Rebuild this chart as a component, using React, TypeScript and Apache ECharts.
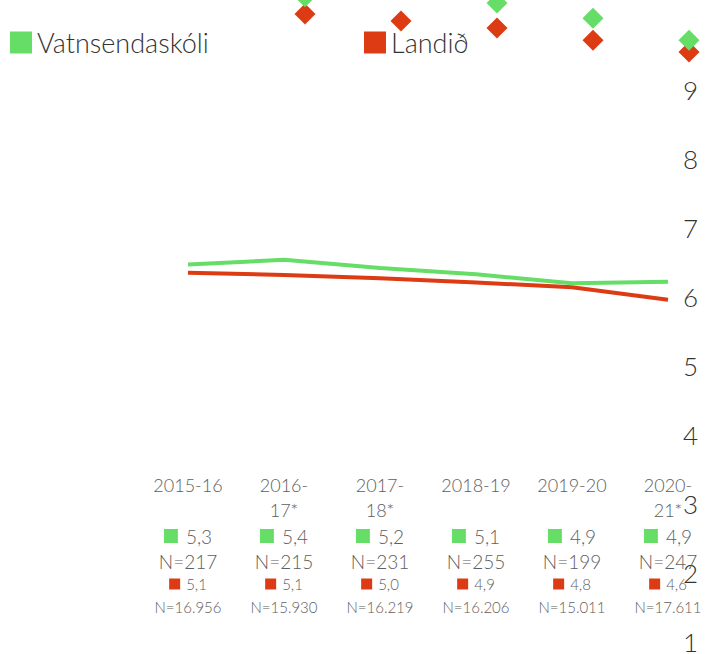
import React, { useEffect, useRef } from 'react';
import * as echarts from 'echarts';

const GREEN = '#66dd66';
const RED = '#dd3b14';
const FONT = 'Lato';
const WEIGHT = 300;

const categories = ['2015-16', '2016-17*', '2017-18*', '2018-19', '2019-20', '2020-21*'];
const categoryLabels = ['2015-16', '2016-\n17*', '2017-\n18*', '2018-19', '2019-20', '2020-\n21*'];

const schoolLine = [6.47, 6.54, 6.42, 6.33, 6.2, 6.22];
const nationalLine = [6.35, 6.32, 6.27, 6.21, 6.14, 5.96];

const schoolDiamonds = ['-', 10.35, 10.5, 10.26, 10.04, 9.72];
const nationalDiamonds = ['-', 10.1, 10.0, 9.9, 9.72, 9.55];

const schoolScores = [5.3, 5.4, 5.2, 5.1, 4.9, 4.9];
const schoolN = [217, 215, 231, 255, 199, 247];
const nationalScores = [5.1, 5.1, 5.0, 4.9, 4.8, 4.6];
const nationalN = [16956, 15930, 16219, 16206, 15011, 17611];

const yMin = 1;
const yMax = 9;
const yStep = 1;

const fmtScore = (v: number) => v.toFixed(1).replace('.', ',');
const fmtN = (n: number) => String(n).replace(/\B(?=(\d{3})+(?!\d))/g, '.');

export default function App() {
  const ref = useRef<HTMLDivElement>(null);

  useEffect(() => {
    document.body.style.margin = '0';
    if (!ref.current) return;
    const chart = echarts.init(ref.current, null, { renderer: 'svg' });

    const labelColor = '#5e5e5e';
    const legendText = { fontSize: 27, color: '#333333', fontFamily: FONT, fontWeight: WEIGHT };
    const option: any = {
      animation: false,
      backgroundColor: '#ffffff',
      textStyle: { fontFamily: FONT },
      legend: [
        {
          data: ['Vatnsendaskóli'],
          left: 10,
          top: 29,
          padding: 0,
          icon: 'rect',
          itemWidth: 22,
          itemHeight: 22,
          itemGap: 10,
          itemTextGap: 10,
          textStyle: legendText,
          selectedMode: false,
        },
        {
          data: ['Landið'],
          left: 364,
          top: 29,
          padding: 0,
          icon: 'rect',
          itemWidth: 22,
          itemHeight: 22,
          itemGap: 10,
          itemTextGap: 10,
          textStyle: legendText,
          selectedMode: false,
        },
      ],
      grid: {
        left: 188,
        right: 38,
        top: 90,
        bottom: 12,
        containLabel: false,
        outerBoundsMode: 'none',
      },
      xAxis: {
        type: 'category',
        data: categories,
        boundaryGap: false,
        position: 'bottom',
        offset: -178,
        axisLine: { show: false },
        axisTick: { show: false },
        splitLine: { show: false },
        axisLabel: {
          interval: 0,
          margin: 8,
          fontFamily: FONT,
          color: labelColor,
          formatter: (_v: string, idx: number) => {
            const parts = categoryLabels[idx].split('\n');
            if (parts.length < 2) parts.push(' ');
            return [
              `{c|${parts[0]}}`,
              `{c|${parts[1]}}`,
              `{gs|}{gv|${fmtScore(schoolScores[idx])}}`,
              `{gn|N=${schoolN[idx]}}`,
              `{rs|}{rv|${fmtScore(nationalScores[idx])}}`,
              `{rn|N=${fmtN(nationalN[idx])}}`,
            ].join('\n');
          },
          rich: {
            c: { fontSize: 18, lineHeight: 25, color: labelColor, fontFamily: FONT, fontWeight: WEIGHT, verticalAlign: 'middle' },
            gs: { width: 14, height: 14, backgroundColor: GREEN, lineHeight: 28, verticalAlign: 'middle' },
            gv: { fontSize: 19, lineHeight: 28, color: labelColor, fontFamily: FONT, fontWeight: WEIGHT, padding: [0, 0, 0, 8], verticalAlign: 'middle' },
            gn: { fontSize: 19, lineHeight: 22, color: labelColor, fontFamily: FONT, fontWeight: WEIGHT, verticalAlign: 'middle' },
            rs: { width: 11, height: 11, backgroundColor: RED, lineHeight: 24, verticalAlign: 'middle' },
            rv: { fontSize: 15, lineHeight: 24, color: labelColor, fontFamily: FONT, fontWeight: WEIGHT, padding: [0, 0, 0, 6], verticalAlign: 'middle' },
            rn: { fontSize: 15, lineHeight: 22, color: labelColor, fontFamily: FONT, fontWeight: WEIGHT, verticalAlign: 'middle' },
          },
        },
      },
      yAxis: {
        type: 'value',
        position: 'right',
        min: yMin,
        max: yMax,
        interval: yStep,
        axisLine: { show: false },
        axisTick: { show: false },
        splitLine: { show: false },
        axisLabel: { fontSize: 26, color: '#333333', margin: 15, fontFamily: FONT, fontWeight: WEIGHT },
      },
      series: [
        {
          name: 'Landið',
          type: 'line',
          data: nationalLine,
          symbol: 'none',
          showSymbol: false,
          clip: false,
          lineStyle: { color: RED, width: 4 },
          itemStyle: { color: RED },
          z: 2,
        },
        {
          name: 'Vatnsendaskóli',
          type: 'line',
          data: schoolLine,
          symbol: 'none',
          showSymbol: false,
          clip: false,
          lineStyle: { color: GREEN, width: 4 },
          itemStyle: { color: GREEN },
          z: 3,
        },
        {
          name: 'Landið',
          type: 'scatter',
          data: nationalDiamonds,
          symbol: 'diamond',
          symbolSize: 21,
          symbolOffset: [21, 0],
          clip: false,
          itemStyle: { color: RED, opacity: 1 },
          z: 4,
        },
        {
          name: 'Vatnsendaskóli',
          type: 'scatter',
          data: schoolDiamonds,
          symbol: 'diamond',
          symbolSize: 21,
          symbolOffset: [21, 0],
          clip: false,
          itemStyle: { color: GREEN, opacity: 1 },
          z: 5,
        },
      ],
    };

    chart.setOption(option);
    return () => chart.dispose();
  }, []);

  return <div ref={ref} style={{ width: 706, height: 654 }} />;
}
